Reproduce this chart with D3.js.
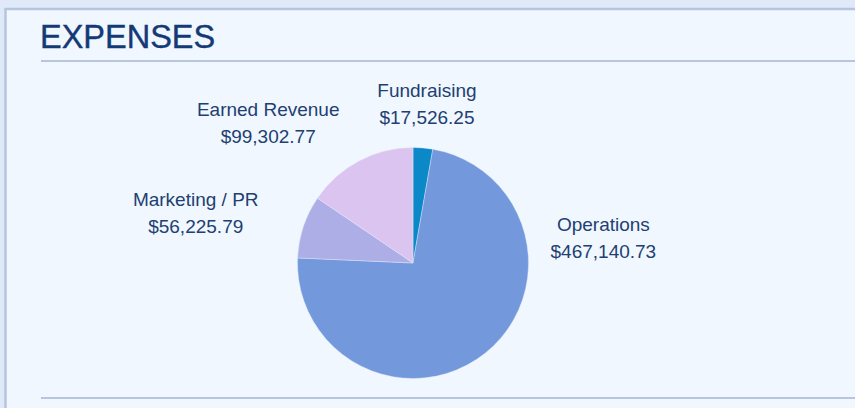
<!DOCTYPE html>
<html>
<head>
<meta charset="utf-8">
<script src="https://cdn.jsdelivr.net/npm/d3@7"></script>
<style>
    html, body { margin: 0; padding: 0; background: #dfe9f9; }
    svg { display: block; }
</style>
</head>
<body>
<div id="chart"></div>
<script>
(function () {
    "use strict";

    // chart data
    const categories = ["Fundraising", "Operations", "Marketing / PR", "Earned Revenue"];
    const expenses = [17526.25, 467140.73, 56225.79, 99302.77];
    const sliceColors = ["#0a88c8", "#7399dc", "#adaee6", "#dcc4f1"];

    // label placement around the pie: [angle in degrees from 12 o'clock, distance from center]
    const labelPlacement = {
        "Fundraising": [5, 160],
        "Operations": [82.5, 192],
        "Marketing / PR": [283, 223],
        "Earned Revenue": [314.2, 202],
    };

    const width = 855;
    const height = 408;
    const center = { x: 413, y: 263 };
    const radius = 115.5;

    const svg = d3.select("#chart").append("svg").attr("width", width).attr("height", height);

    // outer page background and panel
    svg.append("rect").attr("width", width).attr("height", height).attr("fill", "#dfe9f9");
    svg.append("rect")
        .attr("x", 5.5)
        .attr("y", 9)
        .attr("width", width + 20)
        .attr("height", height + 20)
        .attr("fill", "#f1f7fe")
        .attr("stroke", "#b7c5dc")
        .attr("stroke-width", 2.5);

    // title and rules
    svg.append("text")
        .attr("x", 40)
        .attr("y", 48)
        .attr("font-family", "'Liberation Sans', Arial, sans-serif")
        .attr("font-size", 32.5)
        .attr("fill", "#143a76")
        .attr("stroke", "#143a76")
        .attr("stroke-width", 0.4)
        .text("EXPENSES");

    [61, 398].forEach((y) => {
        svg.append("line")
            .attr("x1", 41)
            .attr("x2", width)
            .attr("y1", y)
            .attr("y2", y)
            .attr("stroke", "#b7c5df")
            .attr("stroke-width", 2);
    });

    // pie chart
    const data = categories.map((name, i) => ({ name: name, value: expenses[i], color: sliceColors[i] }));
    const pie = d3.pie().sort(null).value((d) => d.value);
    const arc = d3.arc().innerRadius(0).outerRadius(radius);

    const pieGroup = svg.append("g").attr("transform", `translate(${center.x}, ${center.y})`);
    pieGroup
        .selectAll(".arc")
        .data(pie(data))
        .join("path")
        .attr("class", "arc")
        .attr("d", arc)
        .attr("fill", (d) => d.data.color)
        .attr("stroke", "#e6eefb")
        .attr("stroke-width", 0.4);

    // labels
    const money = d3.format("$,.2f");
    const labels = pieGroup
        .selectAll(".label")
        .data(data)
        .join("g")
        .attr("class", "label")
        .attr("transform", (d) => {
            const p = labelPlacement[d.name];
            const a = (p[0] * Math.PI) / 180;
            return `translate(${Math.sin(a) * p[1]}, ${-Math.cos(a) * p[1]})`;
        });

    labels
        .append("text")
        .attr("text-anchor", "middle")
        .attr("y", -6.5)
        .attr("font-family", "'Liberation Sans', Arial, sans-serif")
        .attr("font-size", 19)
        .attr("fill", "#213f72")
        .text((d) => d.name);

    labels
        .append("text")
        .attr("text-anchor", "middle")
        .attr("y", 20.5)
        .attr("font-family", "'Liberation Sans', Arial, sans-serif")
        .attr("font-size", 19)
        .attr("fill", "#213f72")
        .text((d) => money(d.value));
})();
</script>
</body>
</html>
